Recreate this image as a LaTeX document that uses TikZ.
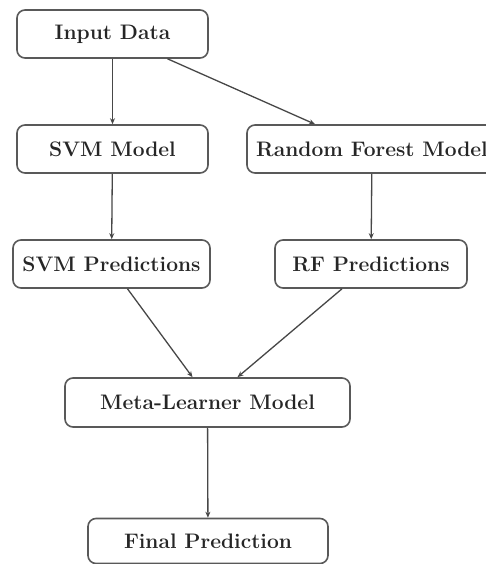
\documentclass[tikz,border=0pt]{standalone}
\usetikzlibrary{arrows.meta}
\begin{document}
\begin{tikzpicture}[x=1pt,y=-1pt,
  box/.style={draw=black!65,line width=1.6pt,rounded corners=8pt,fill=white,
    text=black!85,font=\fontsize{21}{25}\selectfont\bfseries,inner sep=0pt,
    minimum height=48pt},
  arr/.style={draw=black!72,line width=1.3pt,-{Stealth[length=6pt,width=5pt]}}]
\path[use as bounding box,fill=white] (0,0) rectangle (485,564);
\node[box,minimum width=191pt] (input) at (112.5,34) {Input Data};
\node[box,minimum width=191pt] (svm) at (112.5,149) {SVM Model};
\node[box,minimum width=250pt] (rf) at (372,149) {Random Forest Model};
\node[box,minimum width=197pt] (svmp) at (111.5,264) {SVM Predictions};
\node[box,minimum width=192pt] (rfp) at (371,264) {RF Predictions};
\node[box,minimum width=285pt,minimum height=49pt] (meta) at (207.5,402.5) {Meta-Learner Model};
\node[box,minimum width=240pt,minimum height=45pt] (final) at (208,541) {Final Prediction};
\draw[arr] (input) -- (svm);
\draw[arr] ([xshift=55pt]input.south) -- ([xshift=-57pt]rf.north);
\draw[arr] (svm) -- (svmp);
\draw[arr] (rf) -- (rfp);
\draw[arr] ([xshift=16pt]svmp.south) -- ([xshift=-15pt]meta.north);
\draw[arr] ([xshift=-29pt]rfp.south) -- ([xshift=30pt]meta.north);
\draw[arr] (meta) -- (final);
\end{tikzpicture}
\end{document}
